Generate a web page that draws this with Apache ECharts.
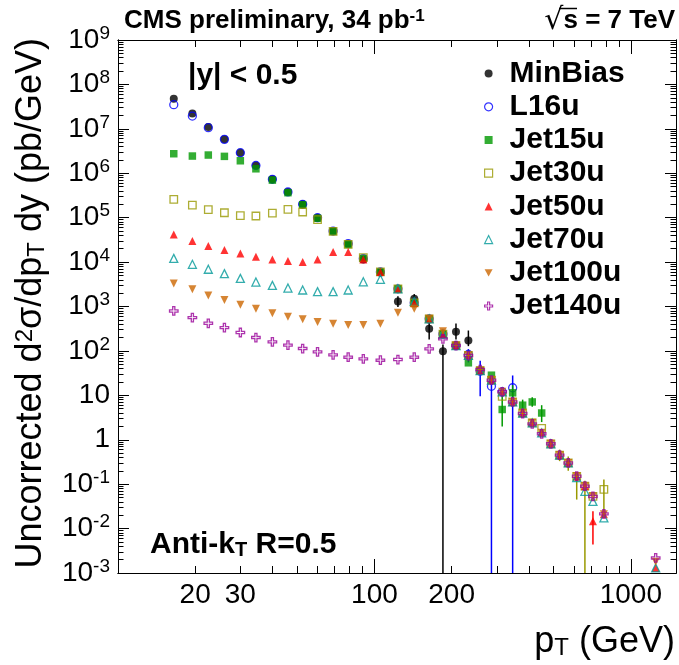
<!DOCTYPE html>
<html><head><meta charset="utf-8">
<script src="https://cdn.jsdelivr.net/npm/echarts@6/dist/echarts.min.js"></script>
<style>html,body{margin:0;padding:0;background:#fff}#c{width:679px;height:665px}</style>
</head><body><div id="c"></div>
<script>
// ---------------- data ----------------
const pt = [16.5, 19.5, 22.5, 26, 30, 34.5, 40, 46, 52.5, 60, 69, 79, 90.5, 105.5, 123.5, 143, 163.5, 185, 208, 232.5,
            258.5, 286, 315, 346, 378.5, 412.5, 449, 487.5, 527.5, 570, 615, 662, 711.5, 785, 1250];

const minBias = [4.75e7, 2.2e7, 1.1e7, 5.8e6, 2.9e6, 1.5e6, 7.3e5, 3.8e5, 2.0e5, 1.0e5, 5.0e4, 2.6e4, 1.15e4, 5.8e3, 1.3e3, 1.49e3, 314, 98.6, 269, 171];
const l16u = [3.5e7, 1.94e7, 1.06e7, 5.8e6, 2.9e6, 1.5e6, 7.3e5, 3.8e5, 2.0e5, 1.0e5, 5.0e4, 2.6e4, 1.2e4, 6.0e3, 2.5e3, 1.21e3, 527, 240, 132, 83, 35, 16, 12, 14.8];
const jet15u = [2.75e6, 2.44e6, 2.57e6, 2.4e6, 1.91e6, 1.26e6, 7.0e5, 3.65e5, 1.95e5, 9.7e4, 4.9e4, 2.5e4, 1.2e4, 5.97e3, 2.5e3, 1.21e3, 527, 240, 132, 54, 36, 28.4, 4.8, 11.4, 6.0, 7.1, 4.0];
const jet30u = [2.58e5, 1.92e5, 1.51e5, 1.29e5, 1.11e5, 1.09e5, 1.27e5, 1.54e5, 1.34e5, 9.0e4, 4.9e4, 2.5e4, 1.26e4, 6.0e3, 2.5e3, 1.21e3, 527, 240, 132, 79, 36, 22, 9.5, 7.1, 4.0, 2.4, 1.8, 0.81, 0.45, 0.30, 0.15, 0.09, 0.053, 0.076];
const jet50u = [4.2e4, 2.98e4, 2.29e4, 1.86e4, 1.57e4, 1.32e4, 1.15e4, 1.06e4, 1.0e4, 1.15e4, 1.68e4, 1.68e4, 1.15e4, 6.0e3, 2.5e3, 1.21e3, 527, 240, 132, 79, 36, 22, 12, 7.1, 4.0, 2.4, 1.43, 0.81, 0.45, 0.30, 0.15, 0.09, 0.0146, 0.021, 0.0013];
const jet70u = [1.21e4, 8.9e3, 6.9e3, 5.5e3, 4.3e3, 3.55e3, 2.99e3, 2.6e3, 2.35e3, 2.16e3, 2.16e3, 2.35e3, 3.6e3, 4.1e3, 2.5e3, 1.3e3, 527, 240, 132, 79, 36, 22, 12, 7.1, 4.0, 2.4, 1.43, 0.81, 0.45, 0.30, 0.14, 0.069, 0.041, 0.0174, 0.0013];
const jet100u = [3.3e3, 2.43e3, 1.78e3, 1.4e3, 1.1e3, 893, 701, 590, 514, 448, 411, 384, 384, 411, 725, 885, 527, 278, 132, 79, 36, 22, 12, 7.1, 4.0, 2.4, 1.43, 0.81, 0.45, 0.30, 0.15, 0.09, 0.053, 0.021, 0.0018];
const jet140u = [793, 561, 419, 334, 260, 200, 160, 135, 113, 95, 81.5, 72.3, 66.2, 61.8, 64, 72.3, 111, 187, 132, 78.7, 38.1, 21.9, 12.0, 7.1, 3.9, 2.28, 1.36, 0.81, 0.45, 0.30, 0.151, 0.090, 0.053, 0.0214, 0.00218];

// error bars: [series index, pT, low, high]
const errorBars = [
  [0, 123.5, 980, 1700], [0, 143, 1200, 1900], [0, 163.5, 180, 509], [0, 185, 0.001, 139], [0, 208, 180, 414], [0, 232.5, 128, 288],
  [1, 232.5, 55, 110], [1, 258.5, 9.5, 60], [1, 286, 0.001, 27], [1, 346, 0.001, 28],
  [2, 315, 2.0, 10.4], [2, 346, 7, 17], [2, 378.5, 4.5, 8], [2, 412.5, 5.5, 9], [2, 449, 2.5, 6],
  [3, 527.5, 0.33, 0.6], [3, 570, 0.2, 0.42], [3, 615, 0.045, 0.18], [3, 662, 0.001, 0.12], [3, 785, 0.0245, 0.127],
  [4, 711.5, 0.0044, 0.0245]
];

const seriesNames = ['MinBias', 'L16u', 'Jet15u', 'Jet30u', 'Jet50u', 'Jet70u', 'Jet100u', 'Jet140u'];
const seriesValues = [minBias, l16u, jet15u, jet30u, jet50u, jet70u, jet100u, jet140u];

const xLabelValues = [20, 30, 100, 200, 1000];

// ---------------- styling ----------------
const colors = ['#000000', '#0000ff', '#009900', '#999900', '#ff0000', '#009999', '#cc6600', '#990099'];
const crossPath = 'path://M3,0H5V3H8V5H5V8H3V5H0V3H3Z';
const downTriangle = 'path://M0,0H10L5,9Z';
const markers = [
  {symbol: 'circle', hollow: false, size: 8},
  {symbol: 'circle', hollow: true, size: 8},
  {symbol: 'rect', hollow: false, size: 7.5},
  {symbol: 'rect', hollow: true, size: 7.5},
  {symbol: 'triangle', hollow: false, size: 8},
  {symbol: 'triangle', hollow: true, size: 8},
  {symbol: downTriangle, hollow: false, size: 8},
  {symbol: crossPath, hollow: true, size: 8.5}
];
const FONT = '"Liberation Sans", Arial, Helvetica, sans-serif';

const X_MIN = 10, X_MAX = 1500, Y_MIN = 1e-3, Y_MAX = 1e9;

const xMajor = [100, 1000];
const xMinor = [];
for (let k = 2; k <= 9; k++) xMinor.push(k * 10);
for (let k = 2; k <= 9; k++) xMinor.push(k * 100);
const yMajor = [];
const yMinor = [];
for (let e = -3; e <= 9; e++) {
  yMajor.push(Math.pow(10, e));
  if (e < 9) for (let k = 2; k <= 9; k++) yMinor.push(+(k * Math.pow(10, e)).toPrecision(3));
}

function xAxisDef(pos, ticks, len, labels) {
  return {
    type: 'log', logBase: 10, min: X_MIN, max: X_MAX, position: pos, gridIndex: 0,
    axisLine: {show: true, onZero: false, lineStyle: {color: '#000', width: 1}},
    axisTick: {show: true, inside: true, length: len, customValues: ticks, lineStyle: {color: '#000', width: 1}},
    axisLabel: labels ? {show: true, customValues: xLabelValues, fontSize: 28, color: '#000', fontFamily: FONT, margin: 8,
                        formatter: v => String(Math.round(v))} : {show: false},
    splitLine: {show: false}, minorTick: {show: false}, minorSplitLine: {show: false}
  };
}
function yAxisDef(pos, ticks, len, labels) {
  return {
    type: 'log', logBase: 10, min: Y_MIN, max: Y_MAX, position: pos, gridIndex: 0,
    axisLine: {show: true, onZero: false, lineStyle: {color: '#000', width: 1}},
    axisTick: {show: true, inside: true, length: len, customValues: ticks, lineStyle: {color: '#000', width: 1}},
    axisLabel: labels ? {
      show: true, customValues: yMajor, fontSize: 28, color: '#000', fontFamily: FONT, margin: 8, lineHeight: 32,
      formatter: v => {
        const e = Math.round(Math.log10(v));
        if (e === 0) return '1';
        if (e === 1) return '10';
        return '10{s|' + e + '}';
      },
      rich: {s: {fontSize: 19, fontFamily: FONT, color: '#000', verticalAlign: 'top', lineHeight: 16}}
    } : {show: false},
    splitLine: {show: false}, minorTick: {show: false}, minorSplitLine: {show: false}
  };
}

const scatterSeries = seriesNames.map((name, i) => {
  const m = markers[i];
  return {
    name, type: 'scatter', xAxisIndex: 0, yAxisIndex: 0,
    symbol: m.symbol, symbolSize: m.size,
    itemStyle: m.hollow ? {color: 'rgba(255,255,255,0)', borderColor: colors[i], borderWidth: 1.3}
                        : {color: colors[i], borderWidth: 0},
    data: seriesValues[i].map((v, j) => [pt[j], v]).filter(d => d[1] != null),
    z: 3 + i * 0.01,
    emphasis: {disabled: true}
  };
});

const errSeries = {
  type: 'custom', xAxisIndex: 0, yAxisIndex: 0, z: 2, silent: true,
  data: errorBars.map(e => [e[1], e[2], e[3], e[0]]),
  renderItem: (params, api) => {
    const p1 = api.coord([api.value(0), api.value(1)]);
    const p2 = api.coord([api.value(0), api.value(2)]);
    return {type: 'line', shape: {x1: p1[0], y1: p1[1], x2: p2[0], y2: p2[1]},
            style: {stroke: colors[api.value(3)], lineWidth: 1.5}};
  }
};

const legendData = seriesNames.map((name, i) => ({
  name, icon: markers[i].symbol,
  itemStyle: markers[i].hollow ? {color: 'rgba(255,255,255,0)', borderColor: colors[i], borderWidth: 1.2}
                               : {color: colors[i], borderWidth: 0}
}));

const chart = echarts.init(document.getElementById('c'), null, {renderer: 'canvas'});
chart.setOption({
  animation: false,
  backgroundColor: '#fff',
  grid: {left: 118, top: 40, width: 558, height: 533, show: false, containLabel: false, outerBoundsMode: 'none'},
  xAxis: [xAxisDef('bottom', xMajor, 14, true), xAxisDef('bottom', xMinor, 7, false),
          xAxisDef('top', xMajor, 14, false), xAxisDef('top', xMinor, 7, false)],
  yAxis: [yAxisDef('left', yMajor, 11, true), yAxisDef('left', yMinor, 5.5, false),
          yAxisDef('right', yMajor, 11, false), yAxisDef('right', yMinor, 5.5, false)],
  legend: {
    orient: 'vertical', left: 484, top: 57, padding: 0, itemGap: 0,
    itemWidth: 8, itemHeight: 8, data: legendData, selectedMode: false,
    textStyle: {fontSize: 30, fontWeight: 'bold', fontFamily: FONT, color: '#000', lineHeight: 33.2, padding: [0, 0, 0, 12]}
  },
  series: [errSeries].concat(scatterSeries),
  graphic: [
    {type: 'text', x: 124, y: 21, style: {text: 'CMS preliminary, 34 pb{s|-1}', font: 'bold 26px ' + FONT, fill: '#000',
      verticalAlign: 'middle', rich: {s: {font: 'bold 17px ' + FONT, fill: '#000', verticalAlign: 'top', lineHeight: 16}}}},
    {type: 'text', x: 675, y: 21, style: {text: '{r|√}s = 7 TeV', font: 'bold 26px ' + FONT, fill: '#000', align: 'right', verticalAlign: 'middle',
      rich: {r: {font: '30px "DejaVu Sans", ' + FONT, fill: '#000'}}}},
    {type: 'line', shape: {x1: 559, y1: 8.5, x2: 577, y2: 8.5}, style: {stroke: '#000', lineWidth: 1.5}},
    {type: 'text', x: 188, y: 76, style: {text: '|y| < 0.5', font: 'bold 30px ' + FONT, fill: '#000', verticalAlign: 'middle'}},
    {type: 'text', x: 150, y: 545, style: {text: 'Anti-k{b|T} R=0.5', font: 'bold 30px ' + FONT, fill: '#000', verticalAlign: 'middle',
      rich: {b: {font: 'bold 20px ' + FONT, fill: '#000', verticalAlign: 'bottom', lineHeight: 24}}}},
    {type: 'text', x: 675, y: 642, style: {text: 'p{b|T} (GeV)', font: '36px ' + FONT, fill: '#000', align: 'right', verticalAlign: 'middle',
      rich: {b: {font: '24px ' + FONT, fill: '#000', verticalAlign: 'bottom', lineHeight: 28}}}},
    {type: 'text', x: 31, y: 38, rotation: Math.PI / 2,
      style: {text: 'Uncorrected d{s|2}σ/dp{b|T} dy (pb/GeV)', font: '36px ' + FONT, fill: '#000', align: 'right', verticalAlign: 'middle',
        rich: {s: {font: '24px ' + FONT, fill: '#000', verticalAlign: 'top', lineHeight: 22},
               b: {font: '24px ' + FONT, fill: '#000', verticalAlign: 'bottom', lineHeight: 28}}}}
  ]
});
</script></body></html>
